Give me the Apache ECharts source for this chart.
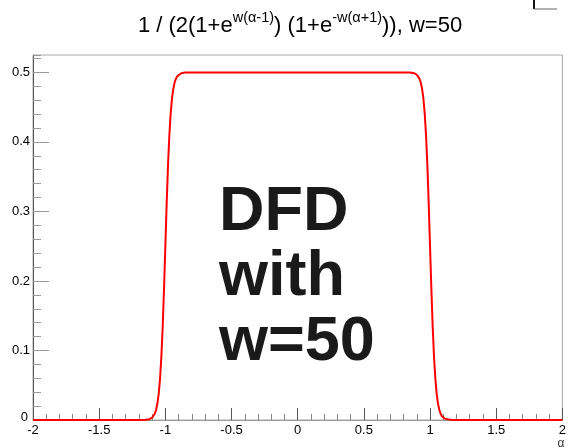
<!DOCTYPE html>
<html lang="en">
<head>
<meta charset="UTF-8">
<title>DFD with w=50</title>
<script src="https://cdn.jsdelivr.net/npm/echarts@6/dist/echarts.min.js"></script>
<style>html,body{margin:0;padding:0;background:#fff;}</style>
</head>
<body>
<div id="chart" style="width:569px;height:448px"></div>
<script type="text/javascript">
    // values (alpha, f(alpha))
    var alphaValues = [
        -2, -1.5, -1.2, -1.15, -1.12, -1.11, -1.10, -1.09, -1.08, -1.07, -1.06, -1.05, -1.04,
        -1.03, -1.02, -1.01, -1.00, -0.99, -0.98, -0.97, -0.96, -0.95, -0.94, -0.93, -0.92,
        -0.91, -0.90, -0.88, -0.85, -0.80, -0.5, 0, 0.5,
        0.80, 0.85, 0.88, 0.90, 0.91, 0.92, 0.93, 0.94, 0.95, 0.96, 0.97, 0.98, 0.99, 1.00,
        1.01, 1.02, 1.03, 1.04, 1.05, 1.06, 1.07, 1.08, 1.09, 1.10, 1.11, 1.12, 1.15, 1.2, 1.5, 2
    ];
    var dfdValues = [
        0, 0, 0, 0.0003, 0.0012, 0.0020, 0.0033, 0.0055, 0.0090, 0.0147, 0.0237, 0.0379, 0.0596,
        0.0912, 0.1345, 0.1888, 0.2500, 0.3112, 0.3655, 0.4088, 0.4404, 0.4621, 0.4763, 0.4854, 0.4910,
        0.4945, 0.4966, 0.4988, 0.4997, 0.5, 0.5, 0.5, 0.5,
        0.5, 0.4997, 0.4988, 0.4966, 0.4945, 0.4910, 0.4854, 0.4763, 0.4621, 0.4404, 0.4088, 0.3655, 0.3112, 0.2500,
        0.1888, 0.1345, 0.0912, 0.0596, 0.0379, 0.0237, 0.0147, 0.0090, 0.0055, 0.0033, 0.0020, 0.0012, 0.0003, 0, 0, 0
    ];
    var xTicks = {min: -2, max: 2, interval: 0.5};
    var yTicks = {min: 0, max: 0.525, interval: 0.1, minorInterval: 0.02};

    var fontFamily = "'Liberation Sans', Arial, Helvetica, sans-serif";
    var chart = echarts.init(document.getElementById('chart'));

    var points = alphaValues.map(function (a, i) {
        return [a, dfdValues[i]];
    });

    var option = {
        animation: false,
        backgroundColor: '#fff',
        textStyle: {fontFamily: fontFamily},
        grid: {
            left: 33, right: 2, top: 55, bottom: 28,
            show: true, borderColor: '#aaa', borderWidth: 1
        },
        xAxis: {
            type: 'value',
            min: xTicks.min, max: xTicks.max, interval: xTicks.interval,
            axisLine: {show: true, onZero: false, lineStyle: {color: '#999', width: 1}},
            axisTick: {show: true, inside: true, length: 12, lineStyle: {color: '#555'}},
            minorTick: {show: true, splitNumber: 5, length: 6, lineStyle: {color: '#888'}},
            axisLabel: {fontSize: 13, color: '#000', margin: 4, fontFamily: fontFamily},
            splitLine: {show: false},
            minorSplitLine: {show: false}
        },
        yAxis: [
            {
                type: 'value',
                min: yTicks.min, max: yTicks.max, interval: yTicks.interval,
                axisLine: {show: true, onZero: false, lineStyle: {color: '#555', width: 1}},
                axisTick: {show: true, inside: true, length: 16, lineStyle: {color: '#999'}},
                axisLabel: {
                    fontSize: 13, color: '#000', margin: 3, fontFamily: fontFamily,
                    showMaxLabel: false,
                    formatter: function (v) {
                        return v === 0 ? '{z|0}' : String(v);
                    },
                    rich: {z: {fontSize: 13, color: '#000', padding: [0, 2, 6, 0]}}
                },
                splitLine: {show: false}
            },
            {
                type: 'value',
                position: 'left',
                min: yTicks.min, max: yTicks.max, interval: yTicks.minorInterval,
                axisLine: {show: false, onZero: false},
                axisTick: {show: true, inside: true, length: 8, lineStyle: {color: '#999'}},
                axisLabel: {show: false},
                splitLine: {show: false}
            }
        ],
        series: [
            {
                type: 'line',
                data: points,
                showSymbol: false,
                clip: false,
                smooth: false,
                lineStyle: {color: '#ff0000', width: 2},
                z: 5
            }
        ],
        graphic: [
            {
                type: 'text',
                style: {
                    x: 300, y: 10,
                    text: '{m|1 / (2(1+e}{s|w(α-1)}{m|) (1+e}{s|-w(α+1)}{m|)), w=50}',
                    align: 'center', verticalAlign: 'top',
                    rich: {
                        m: {fontSize: 22, lineHeight: 22, padding: [9, 0, 0, 0], fill: '#000', fontFamily: fontFamily},
                        s: {fontSize: 14.5, lineHeight: 14, verticalAlign: 'top', fill: '#000', fontFamily: fontFamily}
                    }
                }
            },
            {
                type: 'text',
                z: 10,
                style: {
                    x: 219, y: 180,
                    text: 'DFD\nwith\nw=50',
                    fontSize: 63, fontWeight: 'bold', lineHeight: 65,
                    fontFamily: fontFamily, fill: '#1a1a1a',
                    align: 'left', verticalAlign: 'top'
                }
            },
            {
                type: 'line',
                shape: {x1: 534, y1: 0, x2: 534, y2: 9},
                style: {stroke: '#111', lineWidth: 2}
            },
            {
                type: 'line',
                shape: {x1: 534, y1: 9, x2: 557, y2: 9},
                style: {stroke: '#666', lineWidth: 1}
            },
            {
                type: 'text',
                style: {
                    x: 561, y: 438, text: 'α', fontSize: 12,
                    fontFamily: fontFamily, fill: '#333', align: 'center', verticalAlign: 'top'
                }
            }
        ]
    };
    chart.setOption(option);
</script>
</body>
</html>
